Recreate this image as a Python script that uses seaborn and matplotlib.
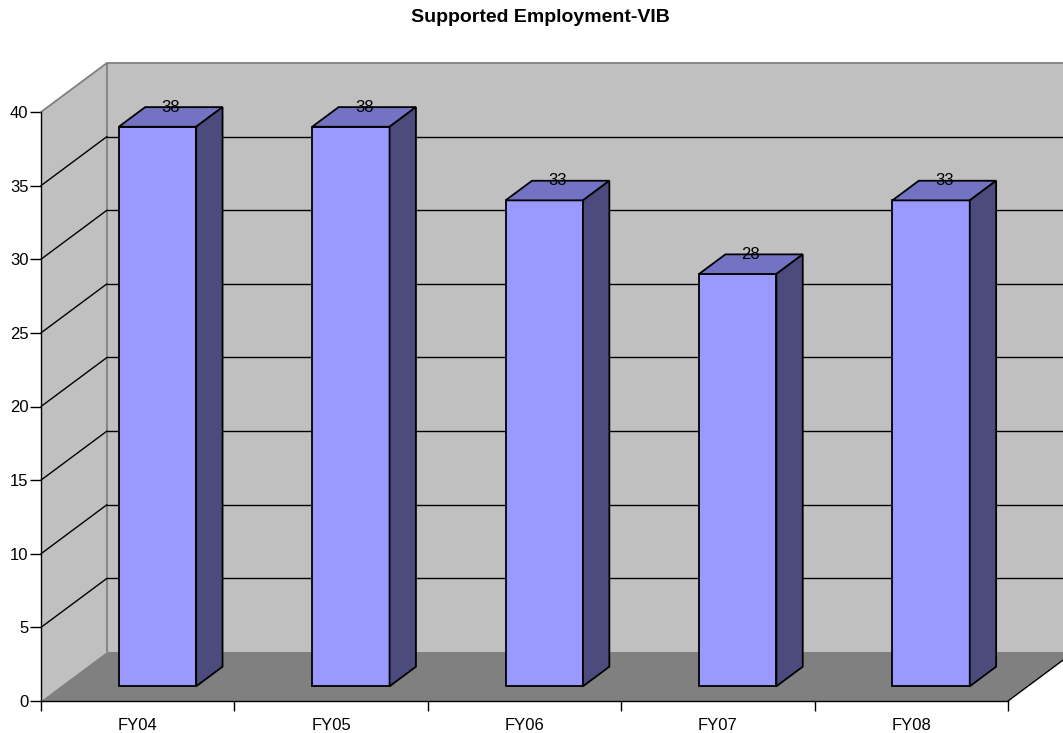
import matplotlib
matplotlib.use("Agg")
import matplotlib.pyplot as plt
from matplotlib.patches import Polygon
from matplotlib.transforms import Affine2D
import seaborn as sns
import pandas as pd

# Data
categories = ["FY04", "FY05", "FY06", "FY07", "FY08"]
values = [38, 38, 33, 28, 33]
y_ticks = [0, 5, 10, 15, 20, 25, 30, 35, 40]
title = "Supported Employment-VIB"

sns.set_theme(style="white")
plt.rcParams["font.family"] = ["Liberation Sans", "DejaVu Sans"]
plt.rcParams["text.color"] = "black"
plt.rcParams["xtick.color"] = "black"
plt.rcParams["ytick.color"] = "black"

fig = plt.figure(figsize=(10.63, 7.33), dpi=100)
fig.patch.set_facecolor("white")
ax = fig.add_axes([41 / 1063, 32 / 733, 967 / 1063, 589 / 733])
ax.set_facecolor("none")

ymax = 40
# oblique depth of the 3-D box, in data units
DX = 0.341
DY = 3.33
BAR_W = 0.40
D0, D1 = 0.3, 0.7          # bar depth span (fraction of box depth)

FRONT = "#9999FF"
TOP = "#7373C4"
SIDE = "#4B4B7E"
WALL = "#C0C0C0"
FLOOR = "#808080"
FS = 12

x0, x1 = -0.5, len(categories) - 0.5

# walls and floor
ax.add_patch(Polygon([(x0 + DX, DY), (x1 + DX, DY), (x1 + DX, ymax + DY), (x0 + DX, ymax + DY)],
                     closed=True, facecolor=WALL, edgecolor="none", zorder=0, clip_on=False))
ax.add_patch(Polygon([(x0, 0), (x0 + DX, DY), (x0 + DX, ymax + DY), (x0, ymax)],
                     closed=True, facecolor=WALL, edgecolor="none", zorder=0, clip_on=False))
ax.add_patch(Polygon([(x0, 0), (x1, 0), (x1 + DX, DY), (x0 + DX, DY)],
                     closed=True, facecolor=FLOOR, edgecolor="none", zorder=0, clip_on=False))
# wall outline
ax.plot([x0 + DX, x0 + DX, x1 + DX], [DY, ymax + DY, ymax + DY], color="#808080", lw=1.3,
        zorder=1, clip_on=False, solid_capstyle="butt")
ax.plot([x0, x0 + DX], [ymax, ymax + DY], color="#808080", lw=1.3, zorder=1, clip_on=False)
# floor right edge
ax.plot([x1, x1 + DX], [0, DY], color="black", lw=1.0, zorder=1, clip_on=False)

# gridlines on back and side walls
for v in y_ticks[1:-1]:
    ax.plot([x0 + DX, x1 + DX], [v + DY, v + DY], color="black", lw=1.0, zorder=1, clip_on=False)
    ax.plot([x0, x0 + DX], [v, v + DY], color="black", lw=1.0, zorder=1, clip_on=False)

# front faces of the bars
df = pd.DataFrame({"cat": categories, "val": values})
sns.barplot(data=df, x="cat", y="val", color=FRONT, saturation=1, width=BAR_W,
            edgecolor="black", linewidth=1.3, ax=ax, zorder=3)
shift = Affine2D().translate(D0 * DX, D0 * DY)
for p in ax.containers[0].patches:
    p.set_transform(shift + ax.transData)
    p.set_clip_on(False)

# top and side faces
for i, v in enumerate(values):
    fl = i - BAR_W / 2 + D0 * DX
    fr = i + BAR_W / 2 + D0 * DX
    fb = D0 * DY
    ft = v + D0 * DY
    ddx = (D1 - D0) * DX
    ddy = (D1 - D0) * DY
    ax.add_patch(Polygon([(fl, ft), (fr, ft), (fr + ddx, ft + ddy), (fl + ddx, ft + ddy)],
                         closed=True, facecolor=TOP, edgecolor="black", lw=1.3, zorder=3,
                         clip_on=False))
    ax.add_patch(Polygon([(fr, fb), (fr + ddx, fb + ddy), (fr + ddx, ft + ddy), (fr, ft)],
                         closed=True, facecolor=SIDE, edgecolor="black", lw=1.3, zorder=3,
                         clip_on=False))
    ax.text(i + 0.5 * DX, v + D1 * DY, f"{v}", ha="center", va="center",
            fontsize=FS, color="black", zorder=4)

ax.set_xlim(x0, x1)
ax.set_ylim(0, ymax)
ax.set_xlabel("")
ax.set_ylabel("")

for s in ["top", "right"]:
    ax.spines[s].set_visible(False)
for s in ["left", "bottom"]:
    ax.spines[s].set_color("black")
    ax.spines[s].set_linewidth(1.0)
    ax.spines[s].set_zorder(2)

ax.set_yticks(y_ticks)
ax.set_yticklabels([str(t) for t in y_ticks])
ax.tick_params(axis="y", direction="out", length=8, width=1.0, color="black",
               pad=1, labelsize=FS, labelcolor="black", left=True)

ax.set_xticks(range(len(categories)))
ax.set_xticklabels(categories)
ax.set_xticks([x0 + k for k in range(len(categories) + 1)], minor=True)
ax.tick_params(axis="x", which="major", length=0, pad=12, labelsize=FS, labelcolor="black")
ax.tick_params(axis="x", which="minor", direction="out", length=7, width=1.0,
               color="black", bottom=True)

fig.text(540 / 1063, 1 - 17 / 733, title, ha="center", va="center",
         fontsize=14, fontweight="bold", color="black")

fig.savefig("out.png", dpi=100, facecolor="white")
